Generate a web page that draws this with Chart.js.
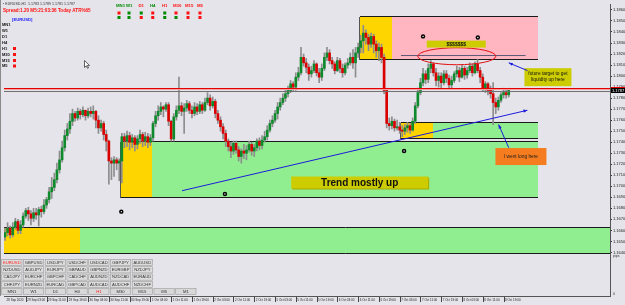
<!DOCTYPE html>
<html><head><meta charset="utf-8">
<script src="https://cdn.jsdelivr.net/npm/chart.js@4.4.1/dist/chart.umd.min.js"></script>
<style>
html,body{margin:0;padding:0;background:#e4e4ea;overflow:hidden}
canvas{display:block}
</style></head><body>
<canvas id="c" width="625" height="305"></canvas>
<script>
// ---------------- DATA ----------------
const symbol = 'EURUSD';
const timeframe = 'H1';
const timeLabels = ['28 Sep 2020','29 Sep 03:00','29 Sep 11:00','29 Sep 19:00','30 Sep 03:00','30 Sep 11:00','30 Sep 19:00',
  '1 Oct 03:00','1 Oct 11:00','1 Oct 19:00','2 Oct 03:00','2 Oct 11:00','2 Oct 19:00','5 Oct 03:00','5 Oct 11:00','5 Oct 19:00',
  '6 Oct 03:00','6 Oct 11:00','6 Oct 19:00','7 Oct 03:00','7 Oct 11:00','7 Oct 19:00','8 Oct 03:00','8 Oct 11:00','8 Oct 19:00'];
const barsPerLabel = 8;
const priceTicks = [1.1640,1.1650,1.1660,1.1670,1.1680,1.1690,1.1700,1.1710,1.1720,1.1730,1.1740,1.1750,
  1.1760,1.1770,1.1780,1.1790,1.1800,1.1810,1.1820,1.1830,1.1840,1.1850,1.1860];

const opens = [1.1654,1.1658,1.1662,1.1656,1.1663,1.1668,1.1660,1.1665,1.1673,1.1678,1.1675,1.1671,
1.1676,1.1674,1.1679,1.1677,1.1683,1.1688,1.1695,1.1699,1.1706,1.1715,1.1724,1.1735,1.1746,1.1752,1.1759,1.1766,1.1762,1.1768,1.1765,
1.1769,1.1764,1.1768,1.1766,1.1768,1.1760,1.1753,1.1757,1.1747,1.1741,1.1723,1.1721,1.1724,1.1721,1.1723,1.1745,1.1741,1.1746,1.1740,1.1744,1.1738,1.1743,1.1747,1.1741,1.1745,1.1740,1.1744,1.1757,1.1764,1.1768,
1.1772,1.1770,1.1774,1.1759,1.1743,1.1763,1.1769,1.1773,1.1768,1.1771,1.1775,1.1769,1.1766,1.1772,1.1768,1.1774,1.1769,1.1776,1.1780,1.1773,1.1777,1.1766,1.1760,1.1754,1.1748,1.1741,1.1736,1.1732,1.1739,1.1733,1.1727,
1.1732,1.1730,1.1733,1.1738,1.1732,1.1735,1.1741,1.1737,1.1742,1.1745,1.1751,1.1757,1.1760,
1.1766,1.1772,1.1776,1.1780,1.1784,1.1787,1.1793,1.1790,1.1799,1.1803,1.1817,1.1812,1.1808,1.1802,1.1805,1.1811,1.1803,1.1799,1.1807,1.1817,1.1821,1.1814,1.1811,
1.1805,1.1814,1.1807,1.1803,1.1810,1.1812,1.1817,1.1812,1.1821,1.1826,1.1832,1.1839,1.1835,1.1829,1.1836,1.1829,1.1823,1.1826,1.1817,1.1787,1.1757,1.1755,1.1759,
1.1753,1.1754,1.1751,1.1750,1.1753,1.1755,1.1751,1.1759,1.1773,1.1785,1.1794,1.1802,1.1797,1.1807,1.1811,1.1803,1.1796,1.1800,1.1794,1.1802,1.1798,1.1792,1.1796,1.1802,1.1805,
1.1799,1.1807,1.1801,1.1805,1.1809,1.1803,1.1811,1.1805,1.1799,1.1789,1.1793,1.1787,1.1784,1.1776,1.1772,1.1778,1.1783,1.1785,1.1783];

const highs = [1.1662,1.1667,1.1664,1.1667,1.1671,1.1670,1.1669,1.1676,1.1680,1.1681,1.1678,1.1680,
1.1680,1.1681,1.1682,1.1688,1.1690,1.1699,1.1708,1.1712,1.1721,1.1732,1.1741,1.1751,1.1757,1.1766,1.1770,1.1768,1.1771,1.1770,1.1772,
1.1769,1.1771,1.1772,1.1773,1.1769,1.1764,1.1760,1.1759,1.1751,1.1742,1.1726,1.1727,1.1726,1.1725,1.1748,1.1748,1.1750,1.1749,1.1747,1.1746,1.1746,1.1751,1.1749,1.1749,1.1748,1.1747,1.1759,1.1768,1.1773,1.1776,
1.1773,1.1776,1.1776,1.1760,1.1766,1.1773,1.1799,1.1776,1.1775,1.1778,1.1777,1.1773,1.1776,1.1775,1.1777,1.1776,1.1780,1.1785,1.1783,1.1781,1.1779,1.1769,1.1763,1.1757,1.1751,1.1743,1.1740,1.1741,1.1741,1.1736,1.1734,
1.1738,1.1737,1.1741,1.1740,1.1738,1.1743,1.1744,1.1746,1.1750,1.1755,1.1760,1.1764,1.1769,
1.1776,1.1780,1.1784,1.1787,1.1791,1.1796,1.1795,1.1803,1.1808,1.1826,1.1820,1.1816,1.1811,1.1809,1.1814,1.1812,1.1807,1.1811,1.1821,1.1826,1.1824,1.1817,1.1813,
1.1817,1.1816,1.1811,1.1812,1.1816,1.1821,1.1824,1.1826,1.1830,1.1837,1.1846,1.1842,1.1838,1.1839,1.1838,1.1832,1.1830,1.1829,1.1820,1.1789,1.1762,1.1763,1.1761,
1.1760,1.1758,1.1755,1.1756,1.1758,1.1757,1.1762,1.1776,1.1789,1.1798,1.1807,1.1805,1.1811,1.1814,1.1812,1.1807,1.1803,1.1803,1.1805,1.1805,1.1801,1.1800,1.1804,1.1809,1.1808,
1.1810,1.1809,1.1808,1.1812,1.1811,1.1813,1.1815,1.1808,1.1802,1.1795,1.1794,1.1791,1.1794,1.1780,1.1781,1.1785,1.1789,1.1788,1.1789];

const lows = [1.1651,1.1655,1.1653,1.1654,1.1661,1.1657,1.1657,1.1663,1.1671,1.1669,1.1665,1.1668,
1.1670,1.1664,1.1672,1.1675,1.1680,1.1685,1.1689,1.1696,1.1703,1.1712,1.1722,1.1732,1.1742,1.1748,1.1755,1.1759,1.1760,1.1761,1.1763,
1.1760,1.1762,1.1763,1.1761,1.1753,1.1748,1.1750,1.1742,1.1732,1.1702,1.1706,1.1709,1.1715,1.1705,1.1703,1.1735,1.1736,1.1733,1.1735,1.1732,1.1734,1.1739,1.1736,1.1737,1.1735,1.1737,1.1741,1.1754,1.1760,1.1765,
1.1763,1.1768,1.1755,1.1741,1.1741,1.1760,1.1766,1.1764,1.1748,1.1768,1.1766,1.1762,1.1764,1.1765,1.1766,1.1766,1.1768,1.1774,1.1769,1.1771,1.1762,1.1757,1.1750,1.1743,1.1736,1.1732,1.1726,1.1729,1.1730,1.1723,1.1721,
1.1725,1.1724,1.1731,1.1728,1.1727,1.1732,1.1733,1.1734,1.1740,1.1742,1.1749,1.1754,1.1758,
1.1761,1.1769,1.1774,1.1777,1.1781,1.1785,1.1786,1.1787,1.1796,1.1801,1.1809,1.1803,1.1796,1.1799,1.1803,1.1800,1.1794,1.1796,1.1805,1.1814,1.1811,1.1807,1.1802,
1.1804,1.1803,1.1799,1.1801,1.1807,1.1810,1.1807,1.1799,1.1817,1.1821,1.1821,1.1829,1.1823,1.1826,1.1821,1.1817,1.1814,1.1812,1.1784,1.1753,1.1751,1.1752,1.1750,
1.1751,1.1748,1.1745,1.1747,1.1749,1.1748,1.1750,1.1757,1.1771,1.1783,1.1791,1.1793,1.1794,1.1803,1.1800,1.1791,1.1790,1.1788,1.1792,1.1794,1.1788,1.1789,1.1794,1.1799,1.1795,
1.1798,1.1797,1.1798,1.1803,1.1800,1.1802,1.1803,1.1794,1.1786,1.1785,1.1783,1.1780,1.1756,1.1766,1.1769,1.1776,1.1780,1.1780,1.1781];

const closes = [1.1658,1.1662,1.1656,1.1663,1.1668,1.1660,1.1665,1.1673,1.1678,1.1675,1.1671,1.1676,
1.1674,1.1679,1.1677,1.1683,1.1688,1.1695,1.1699,1.1706,1.1715,1.1724,1.1735,1.1746,1.1752,1.1759,1.1766,1.1762,1.1768,1.1765,1.1769,
1.1764,1.1768,1.1766,1.1768,1.1760,1.1753,1.1757,1.1747,1.1741,1.1723,1.1721,1.1724,1.1721,1.1723,1.1745,1.1741,1.1746,1.1740,1.1744,1.1738,1.1743,1.1747,1.1741,1.1745,1.1740,1.1744,1.1757,1.1764,1.1768,1.1772,
1.1770,1.1774,1.1759,1.1743,1.1763,1.1769,1.1773,1.1768,1.1771,1.1775,1.1769,1.1766,1.1772,1.1768,1.1774,1.1769,1.1776,1.1780,1.1773,1.1777,1.1766,1.1760,1.1754,1.1748,1.1741,1.1736,1.1732,1.1739,1.1733,1.1727,1.1732,
1.1730,1.1733,1.1738,1.1732,1.1735,1.1741,1.1737,1.1742,1.1745,1.1751,1.1757,1.1760,1.1766,
1.1772,1.1776,1.1780,1.1784,1.1787,1.1793,1.1790,1.1799,1.1803,1.1817,1.1812,1.1808,1.1802,1.1805,1.1811,1.1803,1.1799,1.1807,1.1817,1.1821,1.1814,1.1811,1.1805,
1.1814,1.1807,1.1803,1.1810,1.1812,1.1817,1.1812,1.1821,1.1826,1.1832,1.1839,1.1835,1.1829,1.1836,1.1829,1.1823,1.1826,1.1817,1.1787,1.1757,1.1755,1.1759,1.1753,
1.1754,1.1751,1.1750,1.1753,1.1755,1.1751,1.1759,1.1773,1.1785,1.1794,1.1802,1.1797,1.1807,1.1811,1.1803,1.1796,1.1800,1.1794,1.1802,1.1798,1.1792,1.1796,1.1802,1.1805,1.1799,
1.1807,1.1801,1.1805,1.1809,1.1803,1.1811,1.1805,1.1799,1.1789,1.1793,1.1787,1.1784,1.1776,1.1772,1.1778,1.1783,1.1785,1.1783,1.1787];

// drawn zones (bar index from/to, price top/bottom, kind)
const zoneFrom   = [-1,     28.7,   44.8,   56.7,   152.5,  164.8,  136.8,  149.1];
const zoneTo     = [28.7,   240,    56.7,   205.1,  164.8,  205.1,  149.1,  205.1];
const zoneTop    = [1.1662, 1.1662, 1.1740, 1.1740, 1.1757, 1.1757, 1.1854, 1.1854];
const zoneBottom = [1.1639, 1.1639, 1.1689, 1.1689, 1.1743, 1.1743, 1.1815, 1.1815];
const zoneKind   = ['base','demand','base','demand','base','demand','base','supply'];

// other drawn objects (bar index, price)
const trendLine   = [[68.2, 1.1696], [201.2, 1.1769]];
const levelLines  = [1.1789, 1.1788];
const liquidity   = {from: 152.5, to: 200.5, price: 1.1819};
const ellipseAt   = {x: 174.0, y: 1.1818};
const markerX     = [44.8, 84.7, 153.7, 161.0, 182.1];
const markerY     = [1.1677, 1.1693, 1.1732, 1.1836, 1.1835];
const targetArrow = [[201.2, 1.1805], [194.0, 1.1812]];
const longArrow   = [[194.0, 1.1735], [190.1, 1.1756]];
const cursorAt    = {x: 30.3, y: 1.1815};
const notes = [
  {x: 136.6, y: 1.1703, lines: ['Trend mostly up'], kind: 'big'},
  {x: 173.8, y: 1.1829, lines: ['$$$$$$$'], kind: 'dollar'},
  {x: 209.1, y: 1.1799, lines: ['future target to get', 'liquidity up here'], kind: 'target'},
  {x: 198.7, y: 1.1727, lines: ['I went long here'], kind: 'long'}
];
const spreadText = 'Spread:1.20 M5:21:03:36 Today ATR%65';
const tfNames = ['MN1','W1','D1','H4','H1','M30','M15','M5'];
const tfTrend = ['up','up','down','up','down','down','down','down'];
const tfRow1  = ['down','up','up','down','up','down','down','down'];
const tfRow2  = ['up','up','down','down','up','up','down','down'];
const pairRows = [
  ['EURUSD','GBPUSD','USDJPY','USDCHF','USDCAD','GBPJPY','AUDUSD'],
  ['NZDUSD','AUDJPY','EURJPY','GBPAUD','GBPNZD','EURGBP','NZDJPY'],
  ['CADJPY','EURCHF','GBPCHF','CADCHF','AUDNZD','NZDCAD','EURAUD'],
  ['CHFJPY','EURNZD','EURCAD','GBPCAD','AUDCAD','AUDCHF','NZDCHF']
];
const tfButtons = ['MN1','W1','D1','H4','H1','M30','M15','M5','M1'];

// ---------------- STYLE ----------------
const FONT = "'Liberation Sans', Arial, sans-serif";
Chart.defaults.font.family = FONT;
const bull = '#0e8a2c', bear = '#d90000', wickCol = '#8d8d8d';
const zoneColors = {base: '#ffd500', demand: '#90ee90', supply: '#ffb6c1'};
const blue = '#1c1cdc';
const upCol = '#008a00', dnCol = '#ff1010';

function hline(c, x0, x1, y, col){ c.strokeStyle = col; c.lineWidth = 1; c.beginPath(); const yy = Math.round(y) + 0.5; c.moveTo(x0, yy); c.lineTo(x1, yy); c.stroke(); }
function vline(c, x, y0, y1, col){ c.strokeStyle = col; c.lineWidth = 1; c.beginPath(); const xx = Math.round(x) + 0.5; c.moveTo(xx, y0); c.lineTo(xx, y1); c.stroke(); }
function arrow(c, x0, y0, x1, y1, col, L, W){
  c.strokeStyle = col; c.fillStyle = col; c.lineWidth = 1;
  c.beginPath(); c.moveTo(x0, y0); c.lineTo(x1, y1); c.stroke();
  const a = Math.atan2(y1 - y0, x1 - x0);
  c.beginPath(); c.moveTo(x1, y1);
  c.lineTo(x1 - L*Math.cos(a) + W*Math.sin(a), y1 - L*Math.sin(a) - W*Math.cos(a));
  c.lineTo(x1 - L*Math.cos(a) - W*Math.sin(a), y1 - L*Math.sin(a) + W*Math.cos(a));
  c.closePath(); c.fill();
}
function text(c, s, x, y, font, col, align, base){ c.font = font; c.fillStyle = col; c.textAlign = align || 'left'; c.textBaseline = base || 'middle'; c.fillText(s, x, y); }

const zonePlugin = {
  id: 'zones',
  beforeDatasetsDraw(chart){
    const c = chart.ctx, a = chart.chartArea, X = v => chart.scales.x.getPixelForValue(v), Y = v => chart.scales.y.getPixelForValue(v);
    c.save(); c.beginPath(); c.rect(a.left, a.top, a.right - a.left, a.bottom - a.top); c.clip();
    for (let k = 0; k < zoneFrom.length; k++){
      const x0 = Math.round(X(zoneFrom[k])), x1 = Math.round(X(zoneTo[k]));
      const y0 = Math.round(Y(zoneTop[k])), y1 = Math.round(Y(zoneBottom[k]));
      c.fillStyle = zoneColors[zoneKind[k]]; c.fillRect(x0, y0, x1 - x0, y1 - y0);
    }
    for (let k = 0; k < zoneFrom.length; k++){
      const x0 = Math.round(X(zoneFrom[k])), x1 = Math.round(X(zoneTo[k]));
      const y0 = Math.round(Y(zoneTop[k])), y1 = Math.round(Y(zoneBottom[k]));
      hline(c, x0, x1, y0 - 1, '#1a1a1a'); hline(c, x0, x1, y1 - 1, '#1a1a1a');
      if (zoneKind[k] === 'base') vline(c, x0 - 1, y0, y1, '#555');
    }
    c.restore();
  }
};

const overlayPlugin = {
  id: 'overlay',
  afterDatasetsDraw(chart){
    const c = chart.ctx, a = chart.chartArea, X = v => chart.scales.x.getPixelForValue(v), Y = v => chart.scales.y.getPixelForValue(v);
    c.save(); c.beginPath(); c.rect(a.left, a.top, a.right - a.left, a.bottom - a.top); c.clip();
    hline(c, a.left, a.right, Y(levelLines[0]), '#e60000');
    hline(c, a.left, a.right, Y(levelLines[1]), '#f0a0a0');
    hline(c, a.left, a.right, Y(closes[closes.length - 1]) + 1, '#707070');
    hline(c, X(liquidity.from), X(liquidity.to), Y(liquidity.price), '#5e5a78');
    arrow(c, X(trendLine[0][0]), Y(trendLine[0][1]), X(trendLine[1][0]), Y(trendLine[1][1]), blue, 4, 1.6);
    c.strokeStyle = '#e21010'; c.lineWidth = 1;
    c.beginPath(); c.ellipse(X(ellipseAt.x), Y(ellipseAt.y), 39, 8.5, 0, 0, Math.PI * 2); c.stroke();
    for (const n of notes){
      const cx = X(n.x), cy = Y(n.y);
      if (n.kind === 'big'){
        c.fillStyle = '#a8a800'; c.fillRect(cx - 67.5, cy - 5.5, 137, 12);
        c.fillStyle = '#cccc00'; c.fillRect(cx - 68.5, cy - 6.5, 137, 12);
        text(c, n.lines[0], cx, cy + 0.3, 'bold 10px ' + FONT, '#111', 'center');
      } else if (n.kind === 'dollar'){
        c.fillStyle = '#cccc00'; c.fillRect(cx - 29.5, cy - 3.5, 59, 7);
        text(c, n.lines[0], cx, cy + 0.2, 'bold 5px ' + FONT, '#111', 'center');
      } else if (n.kind === 'target'){
        c.fillStyle = '#cccc00'; c.fillRect(cx - 23.5, cy - 9, 47, 18);
        text(c, n.lines[0], cx, cy - 3, '4.8px ' + FONT, '#111', 'center');
        text(c, n.lines[1], cx, cy + 3, '4.8px ' + FONT, '#111', 'center');
      } else {
        c.fillStyle = '#f57d1f'; c.fillRect(cx - 25.5, cy - 8.5, 51, 17);
        text(c, n.lines[0], cx, cy, '4.8px ' + FONT, '#1a1a1a', 'center');
      }
    }
    arrow(c, X(targetArrow[0][0]), Y(targetArrow[0][1]), X(targetArrow[1][0]), Y(targetArrow[1][1]), blue, 4, 1.6);
    arrow(c, X(longArrow[0][0]), Y(longArrow[0][1]), X(longArrow[1][0]), Y(longArrow[1][1]), blue, 4, 1.6);
    // mouse cursor
    const mx = Math.round(X(cursorAt.x)) + 0.5, my = Math.round(Y(cursorAt.y)) + 0.5;
    c.beginPath(); c.moveTo(mx, my); c.lineTo(mx, my + 7); c.lineTo(mx + 1.8, my + 5.3); c.lineTo(mx + 3, my + 7.8);
    c.lineTo(mx + 4, my + 7.3); c.lineTo(mx + 2.9, my + 4.9); c.lineTo(mx + 5, my + 4.9); c.closePath();
    c.fillStyle = '#fff'; c.fill(); c.strokeStyle = '#222'; c.lineWidth = 0.7; c.stroke();
    c.restore();
  },
  afterDraw(chart){
    const c = chart.ctx, a = chart.chartArea, X = v => chart.scales.x.getPixelForValue(v), Y = v => chart.scales.y.getPixelForValue(v);
    c.save();
    vline(c, 0, 0, a.bottom, '#8a8a8a');
    for (let k = 1; k < timeLabels.length; k++) vline(c, X(k * barsPerLabel), a.bottom + 1, a.bottom + 6, '#444');
    const last = closes[closes.length - 1], by = Y(last);
    c.fillStyle = '#000'; c.fillRect(a.right + 1, Math.round(by) - 2, 14, 5);
    hline(c, a.right + 1, 625, Math.round(by) - 3, '#e60000');
    text(c, last.toFixed(4), a.right + 2, Math.round(by) + 0.5, '4px ' + FONT, '#fff');
    text(c, 'pips', a.right + 3, 256, '3.5px ' + FONT, '#333');
    text(c, '0', a.right + 3, 294, '3.5px ' + FONT, '#333');
    const o = opens.length - 1;
    text(c, '\u25AA ' + symbol + ',' + timeframe + '  ' + opens[o].toFixed(4) + ' ' + highs[o].toFixed(4) + ' ' + lows[o].toFixed(4) + ' ' + closes[o].toFixed(4), 3, 3.5, '3.6px ' + FONT, '#333');
    text(c, spreadText, 3, 10.5, 'bold 4.6px ' + FONT, '#ff1010');
    text(c, '[' + symbol + ']', 12, 19.5, 'bold 4.2px ' + FONT, '#2020ff');
    const listY = [25, 31, 37, 43, 48.5, 54.5, 60.5, 66];
    for (let k = 0; k < tfNames.length; k++){
      text(c, tfNames[k], 2, listY[k], 'bold 4px ' + FONT, '#111');
      if (k >= 4){ c.fillStyle = dnCol; c.fillRect(13, listY[k] - 1.5, 3, 3); }
    }
    const topX = [116, 126, 138.5, 150, 162, 173, 185, 197];
    for (let k = 0; k < tfNames.length; k++){
      c.font = 'bold 4.3px ' + FONT;
      const w = c.measureText(tfNames[k]).width;
      text(c, tfNames[k], topX[k], 6, 'bold 4.3px ' + FONT, tfTrend[k] === 'up' ? upCol : dnCol);
      const sxq = topX[k] + Math.min(w, 6) / 2 - 1.5;
      c.fillStyle = tfRow1[k] === 'up' ? upCol : dnCol; c.fillRect(sxq, 11.5, 3, 3);
      c.fillStyle = tfRow2[k] === 'up' ? upCol : dnCol; c.fillRect(sxq, 16, 3, 3);
    }
    const rowTop = [259.3, 266.7, 274, 281.3];
    const colStep = 21.75, bw = 20.3;
    for (let r = 0; r < pairRows.length; r++){
      for (let k = 0; k < pairRows[r].length; k++){
        const bx = 1.7 + k * colStep;
        c.fillStyle = '#dcdcdc'; c.fillRect(bx, rowTop[r], bw, 6.2);
        c.strokeStyle = '#9c9c9c'; c.lineWidth = 0.6; c.strokeRect(bx, rowTop[r], bw, 6.2);
        text(c, pairRows[r][k], bx + bw / 2, rowTop[r] + 3.3, '4.2px ' + FONT, pairRows[r][k] === symbol ? '#ff2020' : '#333', 'center');
      }
    }
    for (let k = 0; k < tfButtons.length; k++){
      const bx = 1.7 + k * colStep;
      c.fillStyle = '#d8d8d8'; c.fillRect(bx, 288.5, bw, 6);
      c.strokeStyle = '#9c9c9c'; c.lineWidth = 0.6; c.strokeRect(bx, 288.5, bw, 6);
      text(c, tfButtons[k], bx + bw / 2, 291.7, '4.2px ' + FONT, tfButtons[k] === timeframe ? '#ff2020' : '#333', 'center');
    }
    c.restore();
  }
};

const N = opens.length;
const wickData = [], bodyData = [], bodyColors = [];
for (let i = 0; i < N; i++){
  wickData.push({x: i, y: [lows[i], highs[i]]});
  bodyData.push({x: i, y: [opens[i], closes[i]]});
  bodyColors.push(closes[i] >= opens[i] ? bull : bear);
}

new Chart(document.getElementById('c'), {
  type: 'bar',
  data: {
    datasets: [
      {type: 'scatter', data: markerX.map((x, k) => ({x, y: markerY[k]})), pointRadius: 0.7, pointBackgroundColor: '#fff', pointBorderWidth: 0, order: -2},
      {type: 'scatter', data: markerX.map((x, k) => ({x, y: markerY[k]})), pointRadius: 2.2, pointBackgroundColor: '#000', pointBorderWidth: 0, order: -1},
      {data: bodyData, backgroundColor: bodyColors, barThickness: 2, minBarLength: 1, grouped: false, order: 1},
      {data: wickData, backgroundColor: wickCol, barThickness: 1, grouped: false, order: 2}
    ]
  },
  options: {
    responsive: false, animation: false, devicePixelRatio: 1,
    layout: {padding: {left: 1, top: 1, right: 0, bottom: 0}},
    plugins: {legend: {display: false}, tooltip: {enabled: false}},
    scales: {
      x: {
        type: 'linear', min: -0.38, max: 233, offset: false,
        grid: {display: true, drawOnChartArea: false, drawTicks: false},
        border: {display: true, color: '#555'},
        afterBuildTicks: ax => { ax.ticks = timeLabels.map((t, k) => ({value: k * barsPerLabel})); },
        afterFit: ax => { ax.height = 9; ax.paddingLeft = 0; ax.paddingRight = 0; },
        ticks: {autoSkip: false, maxRotation: 0, align: 'start', labelOffset: 1.5, padding: 2,
          font: {size: 3}, color: '#222', callback: (v, i) => timeLabels[i]}
      },
      y: {
        position: 'right', min: 1.160048, max: 1.186539,
        grid: {display: true, drawOnChartArea: false, drawTicks: true, tickLength: 2, color: '#333'},
        border: {display: true, color: '#555'},
        afterBuildTicks: ax => { ax.ticks = priceTicks.map(v => ({value: v})); },
        afterFit: ax => { ax.width = 15; ax.paddingTop = 0; ax.paddingBottom = 0; },
        ticks: {autoSkip: false, padding: 1, font: {size: 4}, color: '#222', callback: v => Number(v).toFixed(4)}
      }
    }
  },
  plugins: [zonePlugin, overlayPlugin]
});
</script>
</body></html>
